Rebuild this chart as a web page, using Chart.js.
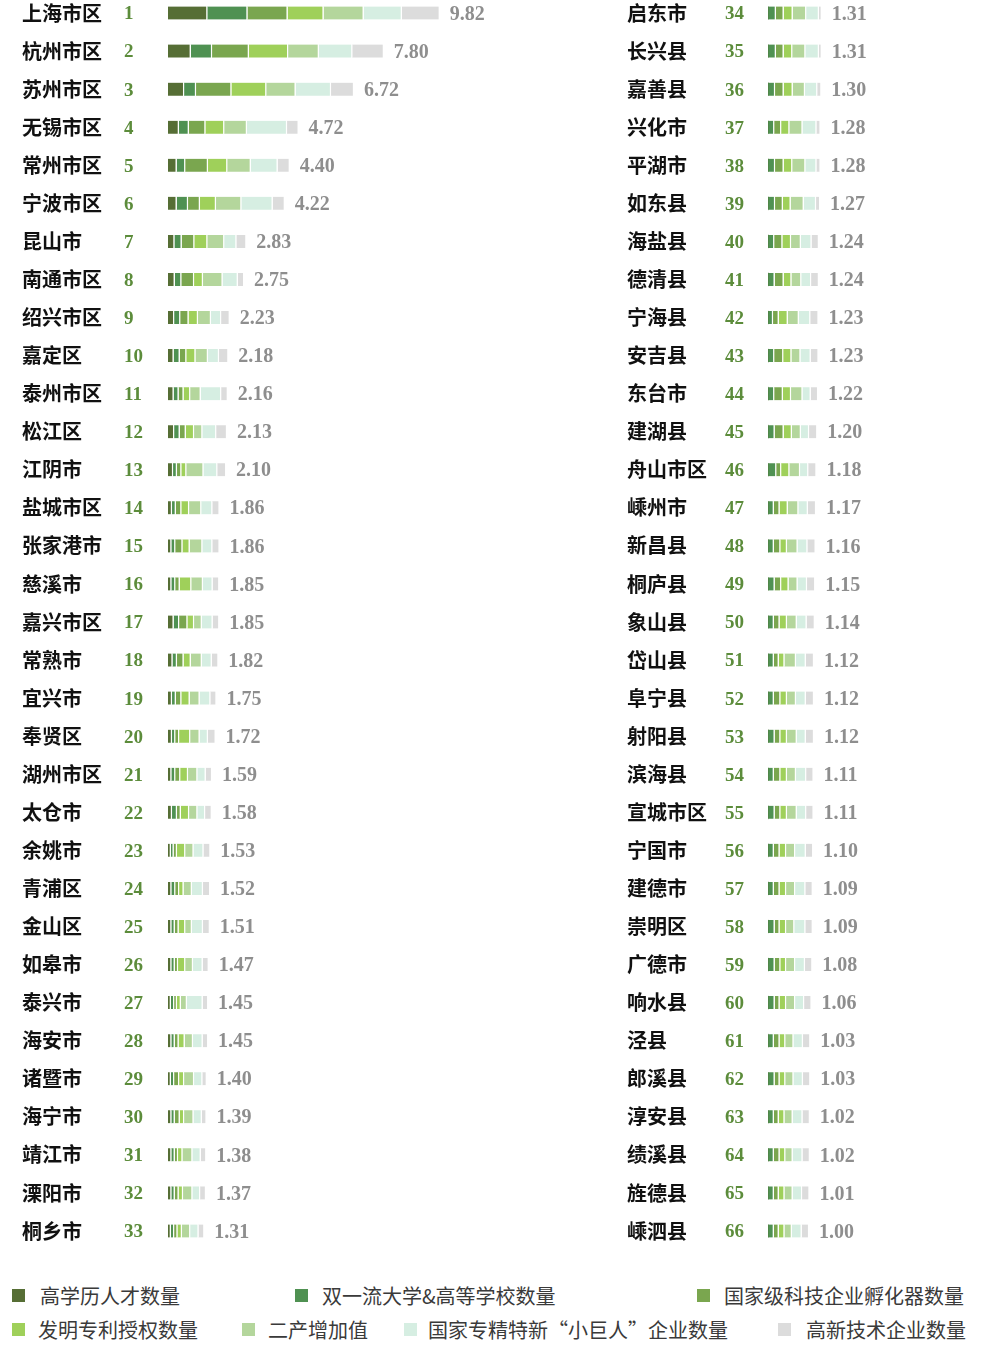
<!DOCTYPE html>
<html><head><meta charset="utf-8">
<script src="https://cdn.jsdelivr.net/npm/chart.js@4/dist/chart.umd.min.js"></script>
<style>
html,body{margin:0;padding:0;background:#fff;}
body{width:982px;height:1350px;overflow:hidden;position:relative;}
.box{position:absolute;}
.lg{position:absolute;font-family:"Noto Sans CJK SC","Noto Sans",sans-serif;font-size:20px;color:#3a3a3a;line-height:24px;white-space:nowrap;}
.sq{position:absolute;width:13px;height:13px;}
</style></head>
<body>
<div class="box" id="L" style="left:0;top:-6.5px;width:500px;height:1256px"><canvas id="cL"></canvas></div>
<div class="box" id="R" style="left:605px;top:-6.5px;width:286px;height:1256px"><canvas id="cR"></canvas></div>
<div id="legend"></div>
<script>
const seriesNames = ["高学历人才数量","双一流大学&高等学校数量","国家级科技企业孵化器数量","发明专利授权数量","二产增加值","国家专精特新“小巨人”企业数量","高新技术企业数量"];
const seriesColors = ["#566e35","#4f9152","#7aa64f","#9fd05a","#b4d69c","#d6eee2","#dcdcdc"];

const namesLeft = ["上海市区","杭州市区","苏州市区","无锡市区","常州市区","宁波市区","昆山市","南通市区","绍兴市区","嘉定区","泰州市区","松江区","江阴市","盐城市区","张家港市","慈溪市","嘉兴市区","常熟市","宜兴市","奉贤区","湖州市区","太仓市","余姚市","青浦区","金山区","如皋市","泰兴市","海安市","诸暨市","海宁市","靖江市","溧阳市","桐乡市"];
const namesRight = ["启东市","长兴县","嘉善县","兴化市","平湖市","如东县","海盐县","德清县","宁海县","安吉县","东台市","建湖县","舟山市区","嵊州市","新昌县","桐庐县","象山县","岱山县","阜宁县","射阳县","滨海县","宣城市区","宁国市","建德市","崇明区","广德市","响水县","泾县","郎溪县","淳安县","绩溪县","旌德县","嵊泗县"];

const totalsLeft = [9.82,7.80,6.72,4.72,4.40,4.22,2.83,2.75,2.23,2.18,2.16,2.13,2.10,1.86,1.86,1.85,1.85,1.82,1.75,1.72,1.59,1.58,1.53,1.52,1.51,1.47,1.45,1.45,1.40,1.39,1.38,1.37,1.31];
const totalsRight = [1.31,1.31,1.30,1.28,1.28,1.27,1.24,1.24,1.23,1.23,1.22,1.20,1.18,1.17,1.16,1.15,1.14,1.12,1.12,1.12,1.11,1.11,1.10,1.09,1.09,1.08,1.06,1.03,1.03,1.02,1.02,1.01,1.00];

// segment values (rank 1..66)
const talent = [1.42,0.82,0.58,0.39,0.31,0.31,0.23,0.24,0.22,0.20,0.20,0.22,0.18,0.14,0.12,0.12,0.20,0.16,0.14,0.14,0.12,0.14,0.10,0.12,0.12,0.12,0.10,0.12,0.10,0.12,0.12,0.12,0.10,
  0,0,0,0,0,0,0,0,0,0,0,0,0,0,0,0,0,0,0,0,0,0,0,0,0,0,0,0,0,0,0,0,0];
const university = [1.45,0.77,0.43,0.36,0.31,0.41,0.26,0.24,0.22,0.22,0.18,0.20,0.14,0.14,0.14,0.14,0.20,0.16,0.14,0.12,0.14,0.18,0.10,0.14,0.12,0.12,0.12,0.12,0.12,0.12,0.12,0.12,0.12,
  0.19,0.19,0.17,0.15,0.17,0.17,0.15,0.16,0.12,0.15,0.15,0.16,0.20,0.14,0.14,0.16,0.14,0.14,0.14,0.16,0.14,0.16,0.14,0.14,0.16,0.16,0.16,0.14,0.16,0.14,0.14,0.14,0.14];
const incubator = [1.45,1.33,1.28,0.60,0.82,0.43,0.46,0.46,0.30,0.24,0.18,0.22,0.16,0.20,0.26,0.16,0.30,0.24,0.20,0.14,0.18,0.14,0.12,0.14,0.14,0.12,0.10,0.14,0.18,0.18,0.12,0.14,0.12,
  0.19,0.19,0.21,0.17,0.21,0.19,0.20,0.22,0.14,0.22,0.21,0.22,0.12,0.14,0.16,0.16,0.14,0.12,0.16,0.14,0.16,0.14,0.14,0.14,0.12,0.14,0.12,0.14,0.12,0.12,0.14,0.12,0.12];
const patent = [1.30,1.42,1.26,0.68,0.70,0.58,0.47,0.32,0.34,0.33,0.24,0.30,0.18,0.28,0.26,0.42,0.24,0.26,0.30,0.40,0.28,0.30,0.30,0.16,0.24,0.26,0.14,0.22,0.18,0.16,0.16,0.16,0.16,
  0.22,0.21,0.22,0.20,0.21,0.19,0.21,0.19,0.22,0.20,0.20,0.20,0.20,0.20,0.16,0.18,0.18,0.14,0.16,0.16,0.16,0.16,0.16,0.16,0.16,0.14,0.16,0.14,0.14,0.14,0.14,0.14,0.14];
const industry = [1.45,1.11,1.06,0.82,0.85,0.92,0.61,0.71,0.47,0.45,0.38,0.30,0.62,0.44,0.46,0.42,0.28,0.40,0.36,0.34,0.34,0.30,0.30,0.30,0.24,0.28,0.22,0.30,0.36,0.34,0.36,0.34,0.30,
  0.33,0.32,0.30,0.32,0.32,0.32,0.24,0.24,0.27,0.22,0.28,0.22,0.26,0.26,0.26,0.22,0.24,0.28,0.22,0.24,0.22,0.24,0.22,0.22,0.20,0.22,0.22,0.20,0.20,0.20,0.18,0.20,0.18];
const giant = [1.38,1.21,1.28,1.45,0.97,1.13,0.44,0.55,0.37,0.40,0.74,0.50,0.50,0.40,0.36,0.35,0.39,0.36,0.39,0.30,0.30,0.28,0.36,0.40,0.40,0.35,0.57,0.35,0.30,0.30,0.30,0.28,0.30,
  0.31,0.33,0.30,0.34,0.27,0.30,0.26,0.24,0.28,0.25,0.20,0.20,0.20,0.23,0.24,0.23,0.24,0.24,0.24,0.22,0.25,0.23,0.26,0.25,0.27,0.24,0.22,0.23,0.23,0.24,0.24,0.23,0.24];
const hitech = [1.37,1.14,0.83,0.42,0.44,0.44,0.36,0.23,0.31,0.34,0.24,0.39,0.32,0.26,0.26,0.24,0.24,0.24,0.22,0.28,0.23,0.24,0.25,0.26,0.25,0.22,0.20,0.20,0.16,0.17,0.20,0.21,0.21,
  0.07,0.07,0.10,0.10,0.10,0.10,0.18,0.19,0.20,0.19,0.18,0.20,0.20,0.20,0.20,0.20,0.20,0.20,0.20,0.20,0.18,0.18,0.18,0.18,0.18,0.18,0.18,0.18,0.18,0.18,0.18,0.18,0.18];

const allSeries = [talent, university, incubator, patent, industry, giant, hitech];

const labelPlugin = {
  id: 'rankAndTotal',
  afterDatasetsDraw(chart, args, opts) {
    const ctx = chart.ctx;
    const y = chart.scales.y;
    const last = chart.getDatasetMeta(chart.data.datasets.length - 1);
    ctx.save();
    ctx.textBaseline = 'middle';
    ctx.textAlign = 'left';
    chart.data.labels.forEach((lab, i) => {
      const py = y.getPixelForValue(i) + 1.5;
      ctx.font = 'bold 19px "Liberation Serif", serif';
      ctx.fillStyle = '#5c8c3b';
      ctx.fillText(String(opts.rankStart + i), chart.chartArea.left - opts.rankGap, py);
      ctx.font = 'bold 20px "Liberation Serif", serif';
      ctx.fillStyle = '#8e8e8e';
      const bar = last.data[i];
      ctx.fillText(opts.totals[i].toFixed(2), bar.x + 10, py);
    });
    ctx.restore();
  }
};

function makeChart(id, names, totals, from, to, xmax, axisW, rankGap, rankStart) {
  const datasets = allSeries.map((s, k) => ({
    label: seriesNames[k],
    data: s.slice(from, to),
    backgroundColor: seriesColors[k],
    borderColor: '#ffffff',
    borderWidth: {left: 0, right: 1.4, top: 0, bottom: 0},
    borderSkipped: false,
    barThickness: 13
  }));
  return new Chart(document.getElementById(id), {
    type: 'bar',
    data: {labels: names, datasets},
    plugins: [labelPlugin],
    options: {
      indexAxis: 'y',
      responsive: true,
      maintainAspectRatio: false,
      animation: false,
      layout: {padding: {left: 22, right: 0, top: 0, bottom: 0}},
      scales: {
        x: {stacked: true, min: 0, max: xmax, display: false},
        y: {
          stacked: true,
          grid: {display: false, drawTicks: false},
          border: {display: false},
          ticks: {
            crossAlign: 'far', padding: 0, autoSkip: false, color: '#111',
            font: {family: '"Noto Sans CJK SC", sans-serif', size: 20, weight: 'bold'}
          },
          afterFit(s) { s.width = axisW; s.paddingTop = 0; s.paddingBottom = 0; }
        }
      },
      plugins: {
        legend: {display: false},
        tooltip: {enabled: false},
        rankAndTotal: {totals, rankGap, rankStart}
      }
    }
  });
}

makeChart('cL', namesLeft, totalsLeft, 0, 33, 12, 146, 44, 1);
makeChart('cR', namesRight, totalsRight, 33, 66, 3, 141, 43, 34);

// legend
const legendPos = [
  {sx: 12, tx: 40, y: 1296},
  {sx: 295, tx: 322, y: 1296},
  {sx: 697, tx: 724, y: 1296},
  {sx: 12, tx: 38, y: 1330},
  {sx: 242, tx: 268, y: 1330},
  {sx: 404, tx: 428, y: 1330},
  {sx: 778, tx: 806, y: 1330}
];
const lg = document.getElementById('legend');
seriesNames.forEach((n, k) => {
  const p = legendPos[k];
  const sq = document.createElement('div');
  sq.className = 'sq';
  sq.style.left = p.sx + 'px';
  sq.style.top = (p.y - 7) + 'px';
  sq.style.background = seriesColors[k];
  lg.appendChild(sq);
  const t = document.createElement('div');
  t.className = 'lg';
  t.style.left = p.tx + 'px';
  t.style.top = (p.y - 12) + 'px';
  t.textContent = n;
  lg.appendChild(t);
});
</script>
</body></html>
